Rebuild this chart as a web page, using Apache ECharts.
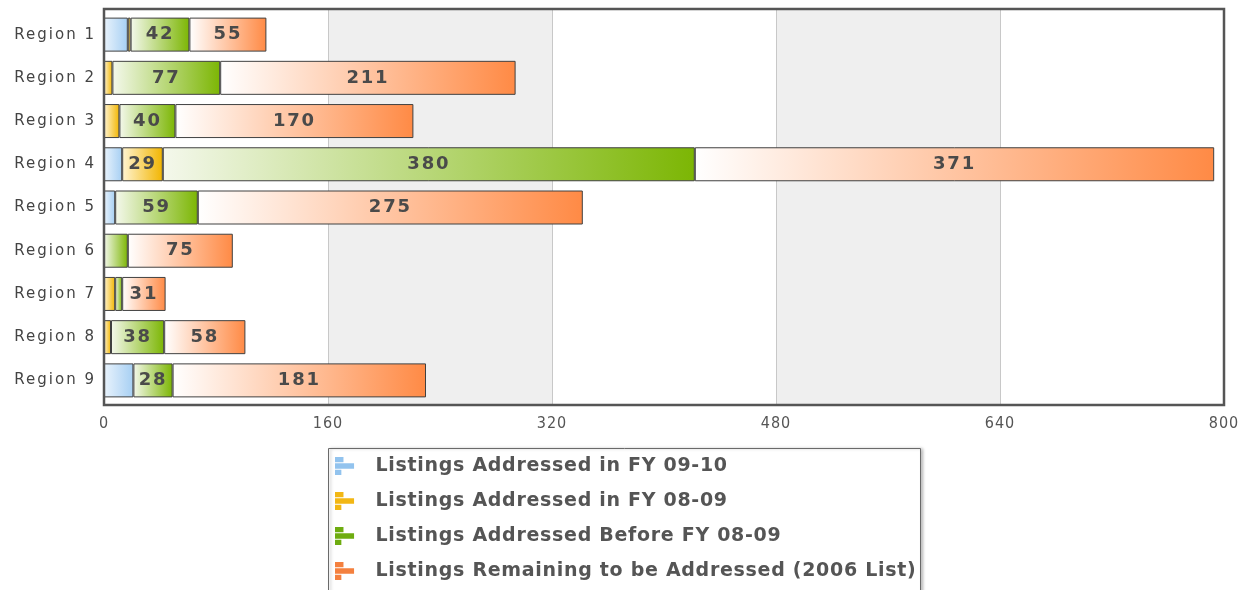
<!DOCTYPE html>
<html>
<head>
<meta charset="utf-8">
<script src="https://cdn.jsdelivr.net/npm/echarts@6/dist/echarts.min.js"></script>
<style>
html,body{margin:0;padding:0;background:#fff;}
#chart{width:1246px;height:590px;}
</style>
</head>
<body>
<div id="chart"></div>
<script>
var categories = ['Region 1','Region 2','Region 3','Region 4','Region 5','Region 6','Region 7','Region 8','Region 9'];
var seriesNames = [
  'Listings Addressed in FY 09-10',
  'Listings Addressed in FY 08-09',
  'Listings Addressed Before FY 08-09',
  'Listings Remaining to be Addressed (2006 List)'
];
var fy0910 = [17, 0, 0, 13, 8, 0, 0, 0, 21];
var fy0809 = [2, 6, 11, 29, 0, 0, 8, 5, 0];
var before0809 = [42, 77, 40, 380, 59, 17, 5, 38, 28];
var remaining = [55, 211, 170, 371, 275, 75, 31, 58, 181];
var xTicks = [0, 160, 320, 480, 640, 800];

// letter spacing to imitate the wide-tracked original fonts (by font size)
var spacingBySize = {'15px': '2px', '16px': '1px', '18px': '1.8px', '19px': '0.7px'};
(function () {
  var proto = CanvasRenderingContext2D.prototype;
  var orig = proto.fillText;
  proto.fillText = function (t, x, y, m) {
    var mm = /(\d+)px/.exec(this.font || '');
    var ls = (mm && spacingBySize[mm[1] + 'px']) || '0px';
    if ('letterSpacing' in this) this.letterSpacing = ls;
    return m === undefined ? orig.call(this, t, x, y) : orig.call(this, t, x, y, m);
  };
})();

var gradients = [
  ['#e9f3fc', '#a6cff3'],
  ['#fff4d2', '#f2b500'],
  ['#f4f8ec', '#7cb604'],
  ['#ffffff', '#ff8a45']
];
var iconColors = ['#92c3ee', '#f2b714', '#6eac10', '#f4803e'];
var allData = [fy0910, fy0809, before0809, remaining];

var chart = echarts.init(document.getElementById('chart'), null, {renderer: 'canvas'});

var series = allData.map(function (arr, i) {
  return {
    name: seriesNames[i],
    type: 'bar',
    stack: 'total',
    xAxisIndex: 1,
    yAxisIndex: 1,
    barWidth: 34,
    data: arr.map(function (v) { return v === 0 ? '-' : v; }),
    itemStyle: {
      color: new echarts.graphic.LinearGradient(0, 0, 1, 0, [
        {offset: 0, color: gradients[i][0]},
        {offset: 1, color: gradients[i][1]}
      ]),
      borderColor: '#404040',
      borderWidth: 1
    },
    label: {
      show: true,
      position: 'inside',
      color: '#4a4a4a',
      fontFamily: 'DejaVu Sans',
      fontWeight: 'bold',
      fontSize: 18,
      formatter: function (p) { return p.value >= 25 ? String(p.value) : ''; }
    },
    emphasis: {disabled: true},
    animation: false
  };
});

var option = {
  animation: false,
  backgroundColor: '#fff',
  grid: [
    {left: 104, right: 22, top: 9, bottom: 185, show: false},
    {left: 104, right: 22, top: 13, bottom: 188, show: false}
  ],
  xAxis: [{
    gridIndex: 0,
    type: 'value',
    min: xTicks[0],
    max: xTicks[xTicks.length - 1],
    interval: 160,
    axisLine: {show: false},
    axisTick: {show: false},
    splitLine: {show: true, lineStyle: {color: '#c8c8c8', width: 1}},
    splitArea: {show: true, areaStyle: {color: ['#ffffff', '#efefef']}},
    axisLabel: {
      color: '#555', fontFamily: 'DejaVu Sans Condensed', fontSize: 16, margin: 11
    }
  }, {
    gridIndex: 1,
    type: 'value',
    min: xTicks[0],
    max: xTicks[xTicks.length - 1],
    interval: 160,
    show: false,
    splitLine: {show: false}
  }],
  yAxis: [{
    gridIndex: 0,
    type: 'category',
    data: categories,
    show: false
  }, {
    gridIndex: 1,
    type: 'category',
    data: categories,
    inverse: true,
    axisLine: {show: false},
    axisTick: {show: false},
    splitLine: {show: false},
    axisLabel: {
      color: '#444', fontFamily: 'DejaVu Sans', fontSize: 15, margin: 8
    }
  }],
  graphic: [
    {
      type: 'rect', z: 100, silent: true,
      shape: {x: 104, y: 9, width: 1120, height: 396},
      style: {fill: null, stroke: '#555', lineWidth: 2.5}
    },
    {
      type: 'rect', z: 1, silent: true,
      shape: {x: 328.5, y: 448.5, width: 592, height: 170},
      style: {fill: '#fff', stroke: '#6a6a6a', lineWidth: 1,
              shadowColor: 'rgba(0,0,0,0.25)', shadowBlur: 3, shadowOffsetX: 2, shadowOffsetY: 0}
    }
  ],
  legend: {
    z: 10,
    orient: 'vertical',
    left: 335,
    top: 456,
    padding: 0,
    itemGap: 15,
    itemWidth: 20,
    itemHeight: 18,
    selectedMode: false,
    icon: 'path://M0,0H8V5H0Z M0,6H18V11H0Z M0,12H6V17H0Z',
    textStyle: {
      color: '#555', fontFamily: 'DejaVu Sans', fontWeight: 'bold', fontSize: 19,
      lineHeight: 20,
      padding: [0, 0, 0, 16]
    },
    data: seriesNames.map(function (n, i) {
      return {name: n, itemStyle: {color: iconColors[i], borderWidth: 0}};
    })
  },
  series: series
};
chart.setOption(option);
</script>
</body>
</html>
